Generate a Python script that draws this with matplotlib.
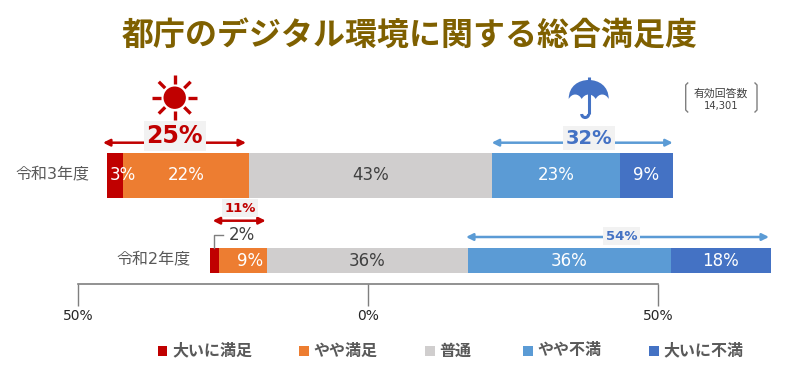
from __future__ import annotations

import matplotlib

matplotlib.use("Agg")
import matplotlib.pyplot as plt
from matplotlib.patches import Arc, Circle, PathPatch, Rectangle
from matplotlib.path import Path as MplPath
import numpy as np

plt.rcParams["font.family"] = ["Noto Sans CJK JP", "DejaVu Sans"]

TITLE = "都庁のデジタル環境に関する総合満足度"
CATEGORIES = ["大いに満足", "やや満足", "普通", "やや不満", "大いに不満"]
COLORS = ["#C00000", "#ED7D31", "#D0CECE", "#5B9BD5", "#4472C4"]
YEARS = ["令和3年度", "令和2年度"]

VALUES_R3 = [2.9, 22.2, 42.9, 22.6, 9.4]
VALUES_R2 = [1.6, 8.5, 35.4, 35.9, 17.7]
LABELS_R3 = ["3%", "22%", "43%", "23%", "9%"]
LABELS_R2 = ["", "9%", "36%", "36%", "18%"]
SCALE_TICKS = [-50, 0, 50]
SCALE_LABELS = ["50%", "0%", "50%"]

WIDTH, HEIGHT = 800, 380
PX_PER_PCT = 5.66
ZERO_PX = 368
DARK = "#404040"
GRAY = "#7F7F7F"
LATIN = ["DejaVu Sans", "Noto Sans CJK JP"]


def draw_bar(ax, y, height, left, values, labels, label_shift):
    for value, label, color, shift in zip(values, labels, COLORS, label_shift):
        ax.barh(y, value, height=height, left=left, color=color, linewidth=0)
        if label:
            text_color = DARK if color == COLORS[2] else "white"
            ax.text(left + value / 2 + shift, y, label, color=text_color, fontsize=12,
                    family=LATIN, ha="center", va="center")
        left += value


def span_arrow(ov, x0, x1, y, color):
    ov.annotate("", xy=(x0, y), xytext=(x1, y),
                arrowprops=dict(arrowstyle="<|-|>", color=color, lw=1.8,
                                shrinkA=0, shrinkB=0, mutation_scale=10))


def span_label(ov, x, y, text, color, size):
    ov.text(x, y, text, color=color, fontsize=size, fontweight="bold", family=LATIN,
            ha="center", va="center",
            bbox=dict(facecolor="#F2F2F2", edgecolor="none", pad=2), zorder=4)


def draw_sun(ov, cx, cy, color):
    ov.add_patch(Circle((cx, cy), 11.2, color=color, linewidth=0))
    for angle in np.arange(0, 360, 45):
        dx, dy = np.cos(np.radians(angle)), np.sin(np.radians(angle))
        ov.plot([cx + 13.5 * dx, cx + 22.5 * dx], [cy + 13.5 * dy, cy + 22.5 * dy],
                color=color, lw=2.4, solid_capstyle="butt")


def draw_umbrella(ov, cx, top, color):
    base = top + 19
    verts = [(cx - 20, base), (cx - 20, top + 6), (cx - 10, top), (cx, top),
             (cx + 10, top), (cx + 20, top + 6), (cx + 20, base)]
    codes = [MplPath.MOVETO] + [MplPath.CURVE4] * 6
    for x0, x1 in [(20, 7), (7, -7), (-7, -20)]:
        verts += [(cx + x0 - (x0 - x1) * 0.25, base - 6), (cx + x0 - (x0 - x1) * 0.75, base - 6), (cx + x1, base)]
        codes += [MplPath.CURVE4] * 3
    ov.add_patch(PathPatch(MplPath(verts, codes), facecolor=color, edgecolor="none"))
    ov.plot([cx, cx], [top - 3, top + 34], color=color, lw=2.2, solid_capstyle="butt")
    ov.add_patch(Arc((cx - 3.5, top + 34), 7, 7, theta1=0, theta2=180, color=color, lw=2.2))


def draw_bracket(ov, x, top, bottom, direction):
    ov.plot([x + 2 * direction, x, x, x + 2 * direction], [top, top + 2, bottom - 2, bottom],
            color=GRAY, lw=1.0)


def main() -> None:
    fig = plt.figure(figsize=(WIDTH / 100, HEIGHT / 100), dpi=100)

    ax = fig.add_axes([0, 0, 1, 1])
    ax.set_xlim(-ZERO_PX / PX_PER_PCT, (WIDTH - ZERO_PX) / PX_PER_PCT)
    ax.set_ylim(HEIGHT, 0)
    ax.axis("off")
    draw_bar(ax, 175.5, 45, -46.1, VALUES_R3, LABELS_R3, [1.4, 0, 0, 0, 0])
    draw_bar(ax, 260.5, 25, -27.9, VALUES_R2, LABELS_R2, [0, 1.2, 0, 0, 0])

    scale = fig.add_axes([78 / WIDTH, 1 - 284 / HEIGHT, 580 / WIDTH, 0.001])
    scale.set_xlim(-50, 50)
    scale.set_xticks(SCALE_TICKS, SCALE_LABELS, family=LATIN)
    scale.set_yticks([])
    scale.patch.set_alpha(0)
    for side in ("top", "left", "right"):
        scale.spines[side].set_visible(False)
    scale.spines["bottom"].set_color(GRAY)
    scale.spines["bottom"].set_linewidth(1.2)
    scale.tick_params(axis="x", length=16, width=1.0, color=GRAY, labelsize=10, labelcolor="#262626", pad=2)

    ov = fig.add_axes([0, 0, 1, 1])
    ov.set_xlim(0, WIDTH)
    ov.set_ylim(HEIGHT, 0)
    ov.axis("off")
    ov.patch.set_alpha(0)

    ov.text(410, 36, TITLE, color="#7F6000", fontsize=23, fontweight="bold", ha="center", va="center")

    ov.text(52, 174, YEARS[0], color="#595959", fontsize=11.5, family=LATIN, ha="center", va="center")
    ov.text(154, 259, YEARS[1], color="#595959", fontsize=11.5, family=LATIN, ha="center", va="center")

    draw_sun(ov, 174.7, 97.7, COLORS[0])
    draw_umbrella(ov, 588.7, 80, COLORS[4])

    span_arrow(ov, 103, 246, 142.7, COLORS[0])
    span_label(ov, 174.7, 136, "25%", COLORS[0], 17)
    span_arrow(ov, 491.7, 672.7, 142.7, COLORS[3])
    span_label(ov, 588.7, 138, "32%", COLORS[4], 14)
    span_arrow(ov, 212.7, 265.7, 220.7, COLORS[0])
    span_label(ov, 240, 208, "11%", COLORS[0], 9.5)
    span_arrow(ov, 466, 769, 237, COLORS[3])
    span_label(ov, 621.7, 236, "54%", COLORS[4], 9.5)

    ov.plot([214.3, 214.3, 222.7], [248, 235, 235], color=GRAY, lw=1.0)
    ov.text(241.7, 235.5, "2%", color=DARK, fontsize=12, family=LATIN, ha="center", va="center")

    draw_bracket(ov, 685.7, 83, 112, 1)
    draw_bracket(ov, 757, 83, 112, -1)
    ov.text(721, 93, "有効回答数", color=DARK, fontsize=7.8, ha="center", va="center")
    ov.text(721, 106.5, "14,301", color=DARK, fontsize=7.2, family=LATIN, ha="center", va="center")

    for name, color, square_x, text_x in zip(CATEGORIES, COLORS, [157.5, 299, 425, 523, 649], [172, 313, 439, 537.5, 663]):
        ov.add_patch(Rectangle((square_x, 346), 9.5, 9.5, color=color, linewidth=0))
        ov.text(text_x, 350.5, name, color="#595959", fontsize=11.5, fontweight="bold", ha="left", va="center")

    fig.savefig("out.png", dpi=100)
    plt.close(fig)


if __name__ == "__main__":
    main()
